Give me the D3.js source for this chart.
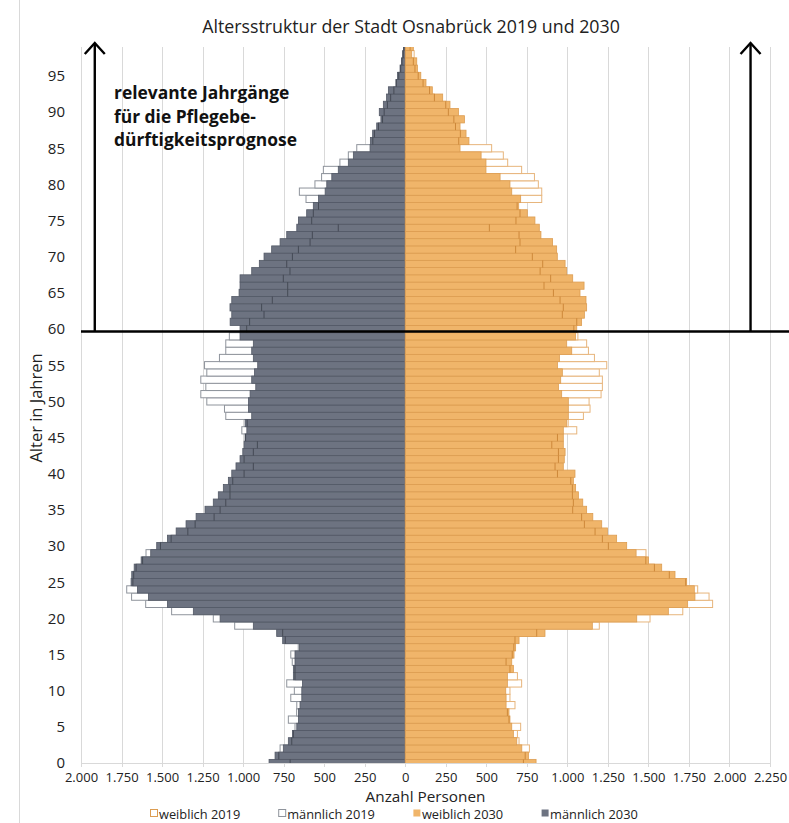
<!DOCTYPE html>
<html>
<head>
<meta charset="utf-8">
<script src="https://cdn.jsdelivr.net/npm/d3@7"></script>
<style>
  body { margin: 0; background: #fff; }
  svg { display: block; font-family: "Open Sans", "Noto Sans", sans-serif; }
</style>
</head>
<body>
<svg id="chart" width="789" height="823"></svg>
<script>
// ages 0..99, one bar per year of age
const ages = d3.range(0, 100);

const male2030 = [
  840, 803, 752, 721, 696, 669, 659, 659, 649, 638,
  638, 634, 690, 690, 680, 680, 653, 756, 793, 937,
  1142, 1307, 1467, 1584, 1652, 1691, 1687, 1672, 1629, 1570,
  1533, 1467, 1413, 1352, 1290, 1235, 1184, 1153, 1122, 1091,
  1070, 1044, 1019, 1002, 994, 988, 977, 988, 947, 967,
  967, 957, 922, 947, 930, 910, 937, 947, 937, 1019,
  1019, 1080, 1070, 1081, 1070, 1025, 1019, 1019, 947, 900,
  871, 824, 772, 731, 669, 659, 608, 567, 535, 494,
  484, 453, 413, 351, 320, 217, 215, 201, 176, 150,
  160, 135, 115, 104, 57, 48, 32, 22, 16, 11
];
const male2019 = [
  710, 780, 772, 700, 690, 680, 721, 670, 669, 706,
  684, 731, 680, 680, 697, 706, 660, 740, 756, 1052,
  1184, 1441, 1601, 1688, 1718, 1680, 1675, 1660, 1620, 1599,
  1510, 1444, 1341, 1296, 1179, 1142, 1107, 1081, 1081, 1064,
  994, 937, 994, 937, 912, 985, 1008, 975, 1107, 1115,
  1224, 1261, 1230, 1261, 1224, 1238, 1146, 1107, 1107, 1085,
  978, 960, 871, 886, 820, 725, 725, 752, 711, 731,
  696, 659, 587, 573, 413, 577, 567, 535, 612, 653,
  557, 516, 505, 403, 351, 299, 200, 190, 165, 140,
  130, 110, 90, 70, 55, 40, 28, 20, 12, 8
];
const female2030 = [
  807, 760, 719, 688, 667, 657, 646, 640, 622, 622,
  620, 630, 630, 667, 657, 671, 681, 702, 862, 1154,
  1428, 1623, 1742, 1787, 1783, 1736, 1664, 1582, 1500, 1424,
  1366, 1304, 1247, 1212, 1157, 1119, 1095, 1068, 1051, 1037,
  1047, 975, 981, 986, 975, 975, 975, 996, 1006, 1006,
  1006, 965, 945, 959, 969, 939, 951, 1027, 996, 1050,
  1058, 1088, 1105, 1119, 1115, 1078, 1103, 1033, 996, 986,
  938, 934, 909, 837, 827, 800, 753, 700, 712, 657,
  646, 585, 498, 498, 468, 338, 393, 375, 338, 365,
  328, 276, 231, 167, 128, 96, 75, 71, 40, 50
];
const female2019 = [
  729, 740, 766, 702, 692, 712, 640, 630, 677, 646,
  646, 718, 692, 646, 622, 660, 670, 677, 811, 1197,
  1510, 1712, 1896, 1874, 1804, 1730, 1629, 1537, 1484, 1485,
  1253, 1216, 1171, 1105, 1088, 1033, 1037, 1031, 1031, 1021,
  939, 924, 945, 945, 904, 939, 1058, 1005, 1099, 1140,
  1134, 1208, 1216, 1216, 1197, 1243, 1167, 1130, 1119, 1065,
  1040, 1058, 969, 975, 955, 914, 856, 897, 832, 848,
  784, 681, 708, 702, 519, 683, 708, 690, 842, 842,
  821, 797, 718, 632, 605, 533, 330, 340, 310, 300,
  266, 250, 180, 150, 110, 80, 60, 50, 55, 30
];

const xTicks = [-2000, -1750, -1500, -1250, -1000, -750, -500, -250, 0,
                250, 500, 750, 1000, 1250, 1500, 1750, 2000, 2250];
const yTicks = [0, 5, 10, 15, 20, 25, 30, 35, 40, 45, 50, 55, 60, 65, 70, 75, 80, 85, 90, 95];
const legendLabels = ["weiblich 2019", "männlich 2019", "weiblich 2030", "männlich 2030"];
const noteLines = ["relevante Jahrgänge", "für die Pflegebe-", "dürftigkeitsprognose"];

const col = {
  grey: "#6d7381", greyLine: "#535966", greyOld: "#8f949c", greyOldIn: "#454a55",
  orange: "#f0b56a", orangeLine: "#dc9d52", orangeOld: "#e7b57c", orangeOldIn: "#cd883a",
  grid: "#d9d9d9", text: "#222"
};

const svg = d3.select("#chart");
const x = d3.scaleLinear().domain([-2000, 2250]).range([81, 770]);
const y = d3.scaleLinear().domain([0, 99]).range([763, 47]);
const bh = y(0) - y(1);

svg.append("defs").append("clipPath").attr("id", "plot")
  .append("rect")
  .attr("x", x(-2000)).attr("y", y(99))
  .attr("width", x(2250) - x(-2000)).attr("height", y(0) - y(99));

// chart area border (left)
svg.append("line")
  .attr("x1", 19.5).attr("x2", 19.5).attr("y1", 0).attr("y2", 823)
  .attr("stroke", col.grid);

// vertical gridlines
svg.append("g").selectAll("line").data(xTicks).join("line")
  .attr("x1", d => Math.round(x(d)) + 0.5).attr("x2", d => Math.round(x(d)) + 0.5)
  .attr("y1", y(99)).attr("y2", y(0) + 4)
  .attr("stroke", col.grid).attr("stroke-width", 1);

svg.append("line")
  .attr("x1", x(-2000)).attr("x2", x(2250))
  .attr("y1", Math.round(y(0)) + 0.5).attr("y2", Math.round(y(0)) + 0.5)
  .attr("stroke", col.grid);

const bars = svg.append("g").attr("clip-path", "url(#plot)");

function drawBars(values, side, fill, stroke, sw) {
  const data = values.map((v, i) => ({age: ages[i], v}));
  bars.append("g").selectAll("rect").data(data).join("rect")
    .attr("x", d => side < 0 ? x(-d.v) : x(0))
    .attr("width", d => side < 0 ? x(0) - x(-d.v) : x(d.v) - x(0))
    .attr("y", d => y(d.age) - bh / 2)
    .attr("height", bh)
    .attr("fill", fill)
    .attr("stroke", stroke)
    .attr("stroke-width", sw);
}

// end edge of a 2019 bar that lies inside the (longer) 2030 bar
function drawInnerEdges(old, now, side, stroke) {
  const data = old.map((v, i) => ({age: ages[i], v, n: now[i]})).filter(d => d.v < d.n);
  bars.append("g").selectAll("line").data(data).join("line")
    .attr("x1", d => x(side * d.v)).attr("x2", d => x(side * d.v))
    .attr("y1", d => y(d.age) - bh / 2).attr("y2", d => y(d.age) + bh / 2)
    .attr("stroke", stroke).attr("stroke-width", 1);
}

// 2019 outlines (white boxes), then 2030 filled bars on top
drawBars(male2019, -1, "#fff", col.greyOld, 1);
drawBars(female2019, 1, "#fff", col.orangeOld, 1);
drawBars(male2030, -1, col.grey, col.greyLine, 0.8);
drawBars(female2030, 1, col.orange, col.orangeLine, 0.8);
drawInnerEdges(male2019, male2030, -1, col.greyOldIn);
drawInnerEdges(female2019, female2030, 1, col.orangeOldIn);

// axes
const fmt = d3.formatLocale({decimal: ",", thousands: ".", grouping: [3], currency: ["", " €"]}).format(",d");

const gx = svg.append("g")
  .attr("transform", `translate(0,${y(0)})`)
  .call(d3.axisBottom(x).tickValues(xTicks).tickFormat(d => fmt(Math.abs(d))).tickSize(0).tickPadding(9.5));
gx.select(".domain").remove();
gx.selectAll("text").attr("font-size", 13).attr("font-family", "Open Sans").attr("fill", col.text);

const gy = svg.append("g")
  .attr("transform", `translate(${x(-2000)},0)`)
  .call(d3.axisLeft(y).tickValues(yTicks).tickSize(0).tickPadding(16));
gy.select(".domain").remove();
gy.selectAll("text").attr("font-size", 15).attr("font-family", "Open Sans").attr("fill", col.text);

// titles
svg.append("text")
  .attr("x", 411).attr("y", 33)
  .attr("text-anchor", "middle").attr("font-size", 17.8).attr("fill", col.text)
  .text("Altersstruktur der Stadt Osnabrück 2019 und 2030");

svg.append("text")
  .attr("transform", `translate(42,${(y(0) + y(99)) / 2 + 3}) rotate(-90)`)
  .attr("text-anchor", "middle").attr("font-size", 16.5).attr("fill", col.text)
  .text("Alter in Jahren");

svg.append("text")
  .attr("x", (x(-2000) + x(2250)) / 2).attr("y", 801.5)
  .attr("text-anchor", "middle").attr("font-size", 15.3).attr("fill", col.text)
  .text("Anzahl Personen");

// legend
const swatch = [
  {fill: "#fff", stroke: col.orangeLine},
  {fill: "#fff", stroke: col.greyOld},
  {fill: col.orange, stroke: "none"},
  {fill: col.grey, stroke: "none"}
];
const legend = svg.append("g").attr("transform", "translate(150,819)");
let lx = 0;
legendLabels.forEach((lab, i) => {
  const g = legend.append("g").attr("transform", `translate(${lx},0)`);
  g.append("rect").attr("x", 0.5).attr("y", -9.5).attr("width", 7).attr("height", 7)
    .attr("fill", swatch[i].fill).attr("stroke", swatch[i].stroke);
  const t = g.append("text").attr("x", 9).attr("y", 0)
    .attr("font-size", 12.8).attr("fill", col.text).text(lab);
  lx += 9 + t.node().getComputedTextLength() + 38;
});

// annotation: arrows and threshold line at age 60
const arrowAt = [-1915, 2130];
const lineY = y(59.67);
svg.append("line")
  .attr("x1", x(-2000)).attr("x2", 789).attr("y1", lineY).attr("y2", lineY)
  .attr("stroke", "#000").attr("stroke-width", 2.6);
arrowAt.forEach(v => {
  const ax = x(v);
  svg.append("line")
    .attr("x1", ax).attr("x2", ax).attr("y1", lineY).attr("y2", 43)
    .attr("stroke", "#000").attr("stroke-width", 2.4);
  svg.append("path")
    .attr("d", `M${ax - 10},54 L${ax},43 L${ax + 10},54`)
    .attr("fill", "none").attr("stroke", "#000").attr("stroke-width", 2.4);
});

svg.append("g").selectAll("text").data(noteLines).join("text")
  .attr("x", 114).attr("y", (d, i) => 99 + i * 23.5)
  .attr("font-size", 17.4).attr("font-weight", "bold").attr("fill", "#111")
  .text(d => d);
</script>
</body>
</html>
